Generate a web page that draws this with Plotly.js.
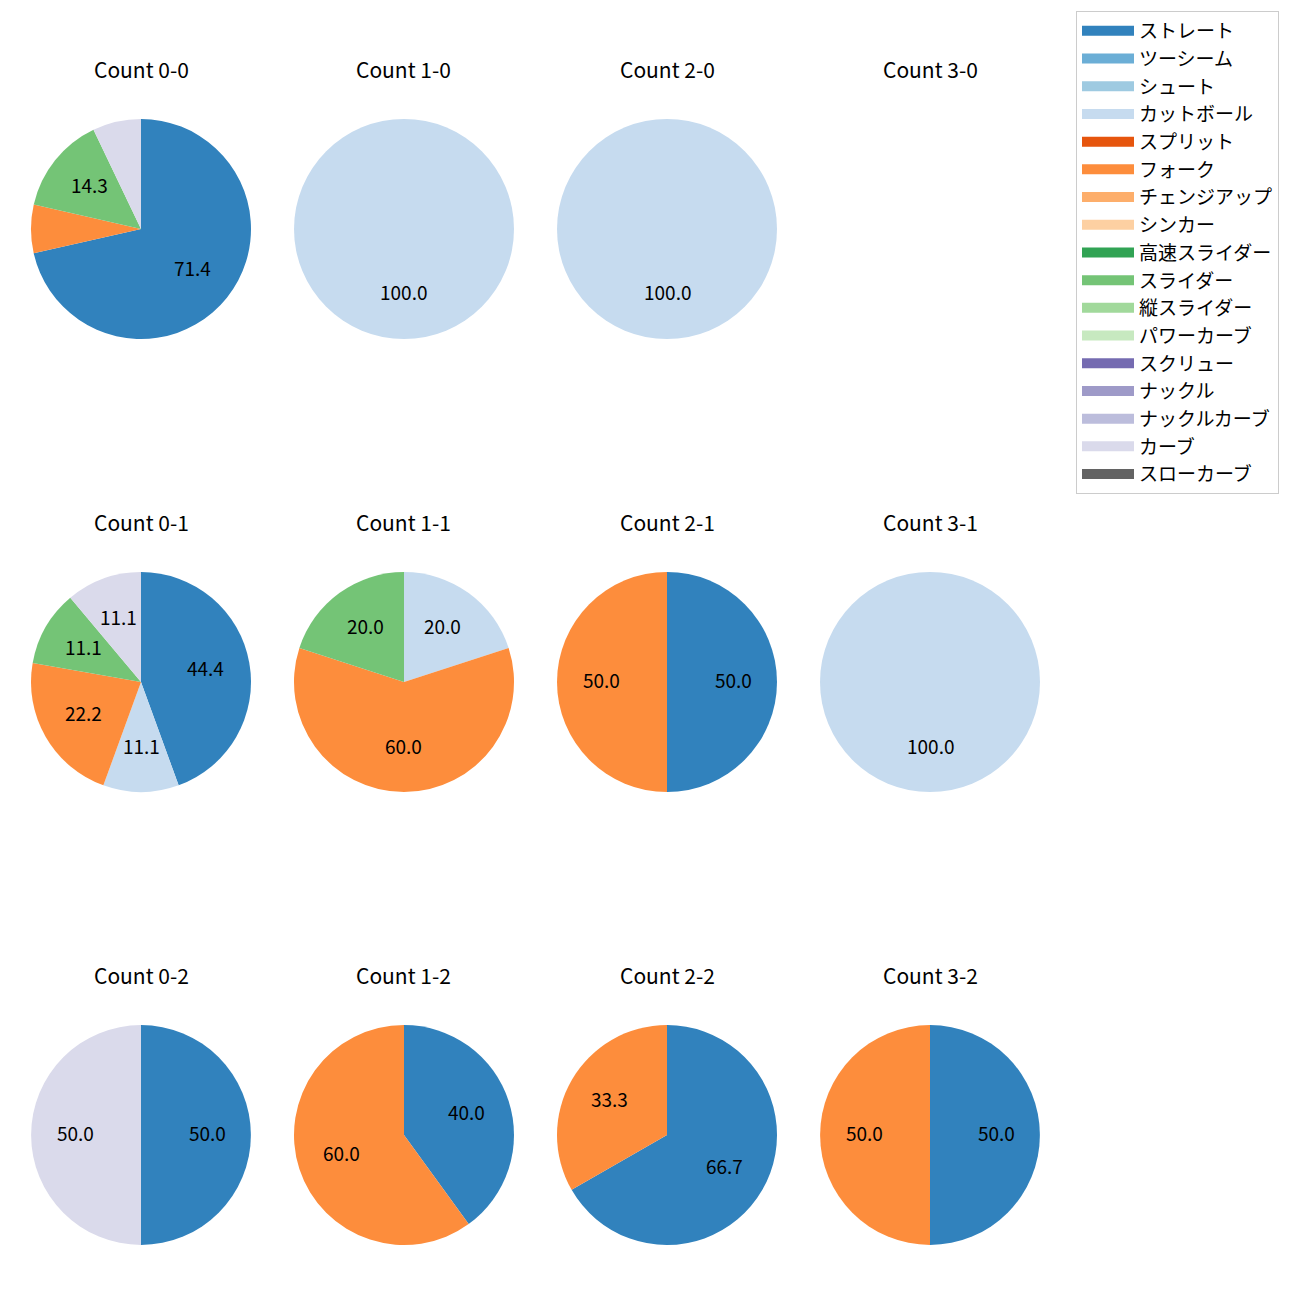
<!DOCTYPE html>
<html>
<head>
<meta charset="utf-8">
<script src="https://cdn.plot.ly/plotly-3.0.1.min.js"></script>
<style>html,body{margin:0;padding:0;background:#fff;}#chart{width:1300px;height:1300px;}</style>
</head>
<body>
<div id="chart"></div>
<script>
// Pitch categories (legend order) and their colours
const categories = ["ストレート","ツーシーム","シュート","カットボール","スプリット","フォーク","チェンジアップ","シンカー","高速スライダー","スライダー","縦スライダー","パワーカーブ","スクリュー","ナックル","ナックルカーブ","カーブ","スローカーブ"];
const categoryColors = ["#3182bd","#6baed6","#9ecae1","#c6dbef","#e6550d","#fd8d3c","#fdae6b","#fdd0a2","#31a354","#74c476","#a1d99b","#c7e9c0","#756bb1","#9e9ac8","#bcbddc","#dadaeb","#636363"];

// Per-count pitch mix (percent)
const count00Labels = ["ストレート","フォーク","スライダー","カーブ"];
const count00Values = [71.4, 7.1, 14.3, 7.1];
const count10Labels = ["カットボール"];
const count10Values = [100.0];
const count20Labels = ["カットボール"];
const count20Values = [100.0];
const count30Labels = [];
const count30Values = [];
const count01Labels = ["ストレート","カットボール","フォーク","スライダー","カーブ"];
const count01Values = [44.4, 11.1, 22.2, 11.1, 11.1];
const count11Labels = ["カットボール","フォーク","スライダー"];
const count11Values = [20.0, 60.0, 20.0];
const count21Labels = ["ストレート","フォーク"];
const count21Values = [50.0, 50.0];
const count31Labels = ["カットボール"];
const count31Values = [100.0];
const count02Labels = ["ストレート","カーブ"];
const count02Values = [50.0, 50.0];
const count12Labels = ["ストレート","フォーク"];
const count12Values = [40.0, 60.0];
const count22Labels = ["ストレート","フォーク"];
const count22Values = [66.7, 33.3];
const count32Labels = ["ストレート","フォーク"];
const count32Values = [50.0, 50.0];

const panelTitles = ["Count 0-0","Count 1-0","Count 2-0","Count 3-0",
                     "Count 0-1","Count 1-1","Count 2-1","Count 3-1",
                     "Count 0-2","Count 1-2","Count 2-2","Count 3-2"];
const panelLabels = [count00Labels,count10Labels,count20Labels,count30Labels,
                     count01Labels,count11Labels,count21Labels,count31Labels,
                     count02Labels,count12Labels,count22Labels,count32Labels];
const panelValues = [count00Values,count10Values,count20Values,count30Values,
                     count01Values,count11Values,count21Values,count31Values,
                     count02Values,count12Values,count22Values,count32Values];

const FONT = '"Noto Sans CJK JP", "Noto Sans", sans-serif';
const W = 1300, H = 1300;
const colCenters = [141, 404, 667, 930];
const rowCenters = [229, 682, 1135];
const R = 110;
const titleOffset = 160;
const pctDistance = 0.6;

const colorOf = {};
categories.forEach((c, i) => colorOf[c] = categoryColors[i]);

const traces = [];
const annotations = [];
panelTitles.forEach((t, k) => {
  const r = Math.floor(k / 4), c = k % 4;
  const cx = colCenters[c], cy = rowCenters[r];
  annotations.push({
    text: t, xref: 'paper', yref: 'paper',
    x: cx / W, y: 1 - (cy - titleOffset) / H,
    xanchor: 'center', yanchor: 'middle', showarrow: false,
    font: {family: FONT, size: 21, color: '#000'}
  });
  const labels = panelLabels[k], values = panelValues[k];
  if (!labels.length) return;
  traces.push({
    type: 'pie', labels: labels, values: values,
    sort: false, direction: 'clockwise', rotation: 0,
    marker: {colors: labels.map(l => colorOf[l]), line: {width: 0}},
    textinfo: 'none',
    hoverinfo: 'label+percent',
    showlegend: false,
    domain: {x: [(cx - R) / W, (cx + R) / W], y: [1 - (cy + R) / H, 1 - (cy - R) / H]}
  });
  // percentage labels at 0.6 radius along each slice's mid-angle (matplotlib autopct style)
  const total = values.reduce((a, b) => a + b, 0);
  let cum = 0;
  values.forEach(v => {
    const mid = (cum + v / 2) / total * 2 * Math.PI;
    cum += v;
    if (v < 10) return;
    annotations.push({
      text: v.toFixed(1), xref: 'paper', yref: 'paper',
      x: (cx + pctDistance * R * Math.sin(mid)) / W,
      y: 1 - (cy - pctDistance * R * Math.cos(mid)) / H,
      xanchor: 'center', yanchor: 'middle', showarrow: false, yshift: 3,
      font: {family: FONT, size: 19, color: '#000'}
    });
  });
});

// legend entries (one per category)
categories.forEach((c, i) => {
  traces.push({
    type: 'scatter', mode: 'lines', x: [null], y: [null],
    name: c, legendgroup: c,
    line: {color: categoryColors[i], width: 13},
    hoverinfo: 'skip', showlegend: true
  });
});

const layout = {
  width: W, height: H,
  margin: {l: 0, r: 0, t: 0, b: 0},
  paper_bgcolor: '#fff', plot_bgcolor: 'rgba(0,0,0,0)',
  xaxis: {visible: false, domain: [0, 0.01]},
  yaxis: {visible: false, domain: [0, 0.01]},
  showlegend: true,
  legend: {
    x: 1076 / W, y: 1 - 11 / H, xanchor: 'left', yanchor: 'top',
    bgcolor: '#fff', bordercolor: '#cccccc', borderwidth: 1,
    font: {family: FONT, size: 19, color: '#000'},
    traceorder: 'grouped', tracegroupgap: 0, itemwidth: 52
  },
  annotations: annotations
};

Plotly.newPlot('chart', traces, layout, {displayModeBar: false, staticPlot: true});
</script>
</body>
</html>
